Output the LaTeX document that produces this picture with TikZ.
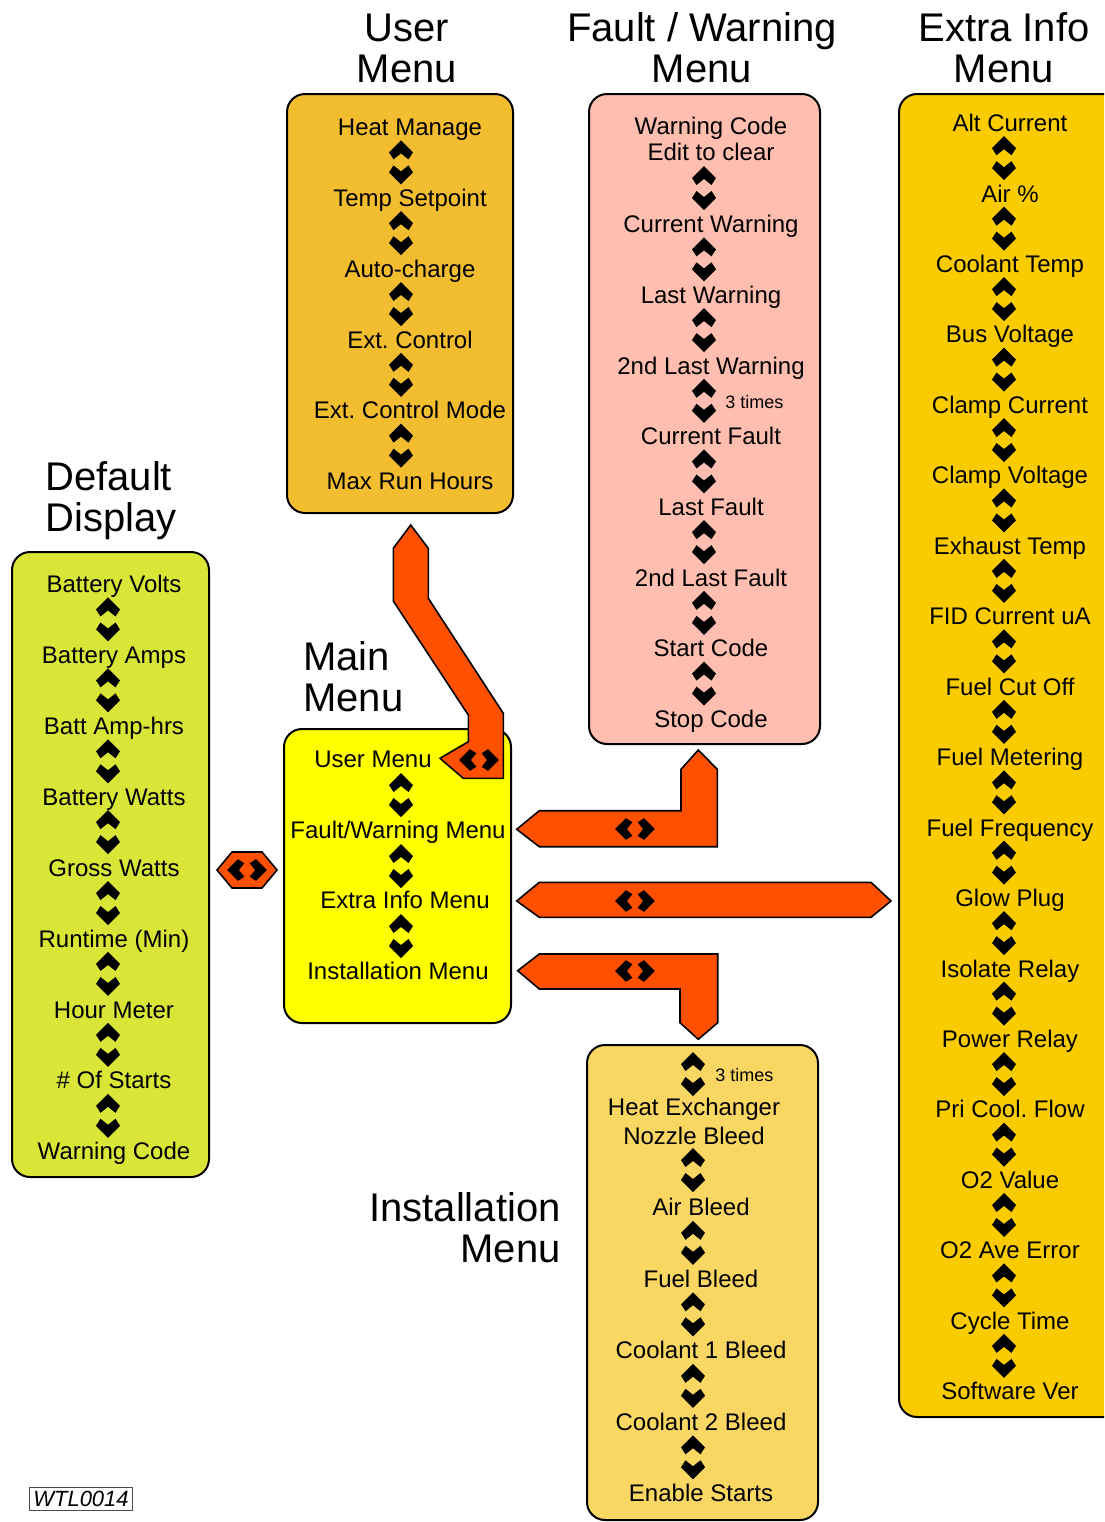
\documentclass[tikz,border=0pt]{standalone}
\usepackage{fontspec}
\setmainfont{Liberation Sans}
\usetikzlibrary{calc}
\frenchspacing
\definecolor{dispgreen}{RGB}{217,230,56}
\definecolor{usergold}{RGB}{243,189,48}
\definecolor{faultpink}{RGB}{255,190,175}
\definecolor{extragold}{RGB}{250,204,0}
\definecolor{mainyellow}{RGB}{255,255,0}
\definecolor{installgold}{RGB}{250,214,98}
\definecolor{linkorange}{RGB}{255,80,0}
\tikzset{
  item/.style={font=\fontsize{12}{14}\selectfont, inner sep=0pt, text height=8.6pt, text depth=0pt},
  twoline/.style={font=\fontsize{12}{#1}\selectfont, align=center, inner sep=0pt, anchor=base},
  title/.style={font=\fontsize{20}{20.5}\selectfont, inner sep=0pt, anchor=base},
  note/.style={font=\fontsize{9}{10}\selectfont, inner sep=0pt, anchor=west},
  menubox/.style={draw=black, line width=1pt, rounded corners=9pt},
  link/.style={draw=black, fill=linkorange, line width=.8pt},
  updown/.pic={
    \fill (0,-22) -- (12,-10) -- (7.5,-3) -- (0,-9) -- (-7.5,-3) -- (-12,-10) -- cycle;
    \fill (0,22) -- (12,10) -- (7.5,3) -- (0,9) -- (-7.5,3) -- (-12,10) -- cycle;
  }
}
\begin{document}
\begin{tikzpicture}[x=0.5pt, y=-0.5pt]
  \useasboundingbox (0,0) rectangle (1104,1522);
  \clip (0,0) rectangle (1104,1522);
  \draw[menubox, fill=dispgreen] (12,552) rectangle (209,1177);
  \draw[menubox, fill=usergold] (287,94) rectangle (513,513);
  \draw[menubox, fill=faultpink] (589,94) rectangle (820,744);
  \draw[menubox, fill=extragold] (899,94) rectangle (1130,1417);
  \draw[menubox, fill=mainyellow] (284,729) rectangle (511,1023);
  \draw[menubox, fill=installgold] (587,1045) rectangle (818,1520);

  \node[title, align=left, anchor=base west] (ddtitle) at (45,531.3) {Default\\Display};
  \node[title, align=center] (umtitle) at (407,82.3) {User\\Menu};
  \node[title, align=center] (fwtitle) at (702,82.3) {Fault / Warning\\Menu};
  \node[title, align=center] (eititle) at (1004,82.3) {Extra Info\\Menu};
  \node[title, align=left, anchor=base west] (mmtitle) at (303,711.3) {Main\\Menu};
  \node[title, align=right, anchor=base east] (imtitle) at (561,1262.3) {Installation\\Menu};

  \foreach \t [count=\i] in {Battery Volts, Battery Amps, Batt Amp-hrs, Battery Watts, Gross Watts, Runtime (Min), Hour Meter, \# Of Starts, Warning Code}
    \node[item] (dd\i) at (114,{584+70.9*(\i-1)}) {\t};
  \foreach \i [count=\j from 2] in {1,...,8}
    \pic at ($(dd\i)!.5!(dd\j)+(-6,0)$) {updown};

  \foreach \t [count=\i] in {Heat Manage, Temp Setpoint, Auto-charge, Ext. Control, Ext. Control Mode, Max Run Hours}
    \node[item] (um\i) at (410,{127+70.8*(\i-1)}) {\t};
  \foreach \i [count=\j from 2] in {1,...,5}
    \pic at ($(um\i)!.5!(um\j)+(-9,0)$) {updown};

  \node[twoline=13] (fw0) at (711,160.6) {Warning Code\\Edit to clear};
  \pic at (704,188) {updown};
  \foreach \t [count=\i] in {Current Warning, Last Warning, 2nd Last Warning, Current Fault, Last Fault, 2nd Last Fault, Start Code, Stop Code}
    \node[item] (fw\i) at (711,{224+70.7*(\i-1)}) {\t};
  \foreach \i [count=\j from 2] in {1,...,7}
    \pic at ($(fw\i)!.5!(fw\j)+(-7,0)$) {updown};
  \node[note] (fwnote) at (725,402) {3 times};

  \foreach \t [count=\i] in {Alt Current, Air \%, Coolant Temp, Bus Voltage, Clamp Current, Clamp Voltage, Exhaust Temp, FID Current uA, Fuel Cut Off, Fuel Metering, Fuel Frequency, Glow Plug, Isolate Relay, Power Relay, Pri Cool. Flow, O2 Value, O2 Ave Error, Cycle Time, Software Ver}
    \node[item] (ei\i) at (1010,{123+70.45*(\i-1)}) {\t};
  \foreach \i [count=\j from 2] in {1,...,18}
    \pic at ($(ei\i)!.5!(ei\j)+(-6,0)$) {updown};

  \node[item] (mm1) at (373,759) {User Menu};
  \node[item] (mm2) at (398,830) {Fault/Warning Menu};
  \node[item] (mm3) at (405,900) {Extra Info Menu};
  \node[item] (mm4) at (398,971) {Installation Menu};
  \pic at (401,795) {updown};
  \pic at (401,866) {updown};
  \pic at (401,936) {updown};

  \pic at (693,1074) {updown};
  \node[note] (imnote) at (715,1075) {3 times};
  \node[twoline=14.5] (im0) at (694,1144.6) {Heat Exchanger\\Nozzle Bleed};
  \pic at (693,1170) {updown};
  \foreach \t [count=\i] in {Air Bleed, Fuel Bleed, Coolant 1 Bleed, Coolant 2 Bleed, Enable Starts}
    \node[item] (im\i) at (701,{1207+71.5*(\i-1)}) {\t};
  \foreach \i [count=\j from 2] in {1,...,4}
    \pic at ($(im\i)!.5!(im\j)+(-8,0)$) {updown};

  \draw[link] (217,870) -- (232,852) -- (262,852) -- (277,870) -- (262,888) -- (232,888) -- cycle;
  \pic[rotate=90, scale=.9] at (247,870) {updown};
  \draw[link] (410.7,525) -- (428.3,548.3) -- (428.3,598.3) -- (503.3,713.3) -- (503.3,778.3) -- (463.3,778.3) -- (440,758.3) -- (468.3,741.7) -- (468.3,715) -- (393.3,601) -- (393.3,548.3) -- cycle;
  \pic[rotate=90, scale=.9] at (479,760) {updown};
  \draw[link] (698.3,750) -- (717.3,769.3) -- (717.3,846.7) -- (539.3,846.7) -- (516.7,829.3) -- (539.3,810.7) -- (681,810.7) -- (681,769.3) -- cycle;
  \pic[rotate=90, scale=.9] at (635,829) {updown};
  \draw[link] (516.7,901) -- (539.3,882.3) -- (871,882.3) -- (891,901) -- (871,917.3) -- (539.3,917.3) -- cycle;
  \pic[rotate=90, scale=.9] at (635,901) {updown};
  \draw[link] (517.7,970.7) -- (539.3,954) -- (717.7,954) -- (717.7,1022.7) -- (698.3,1039.3) -- (680,1022.7) -- (680,989) -- (539.3,989) -- cycle;
  \pic[rotate=90, scale=.9] at (635,971) {updown};

  \node[draw=gray!60!black, line width=.5pt, inner sep=2pt, font=\fontsize{11}{12}\selectfont\itshape] (wtl) at (81,1499) {WTL0014};
\end{tikzpicture}
\end{document}
